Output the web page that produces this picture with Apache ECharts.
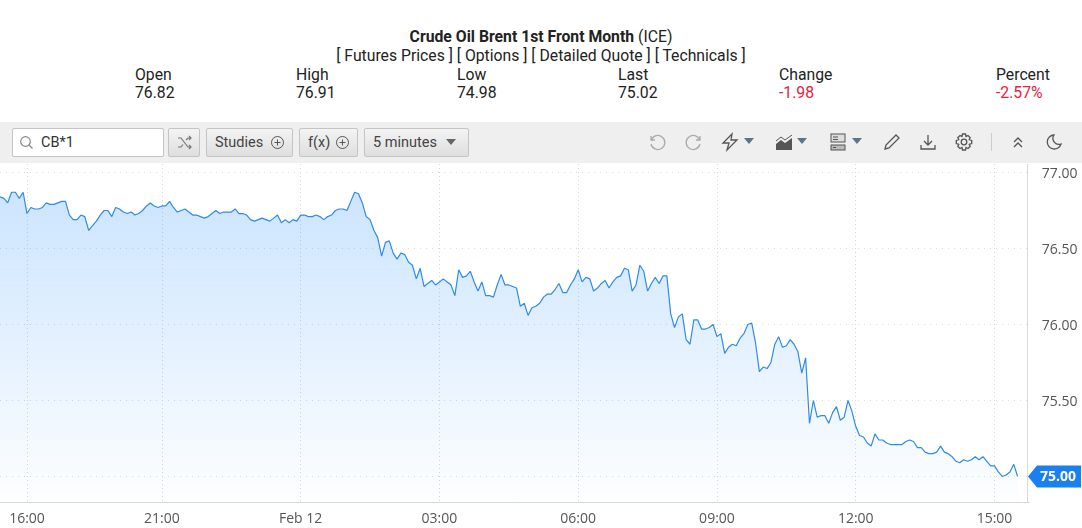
<!DOCTYPE html>
<html>
<head>
<meta charset="utf-8">
<title>Crude Oil Brent 1st Front Month (ICE)</title>
<script src="https://cdn.jsdelivr.net/npm/echarts@6/dist/echarts.min.js"></script>
<style>
    html, body { margin: 0; padding: 0; background: #fff; }
    body { width: 1082px; height: 528px; position: relative; overflow: hidden; font-family: Roboto, sans-serif; color: #222; font-size: 15.75px; }
    .t { position: absolute; white-space: nowrap; line-height: 18px; }
    .c { left: 0; width: 1082px; text-align: center; }
    .red { color: #e8203a; }
    #bar { position: absolute; left: 0; top: 122px; width: 1082px; height: 41px; background: #efefef; }
    .box { position: absolute; top: 6px; height: 29px; line-height: 27px; box-sizing: border-box; border: 1px solid #c4c4c4; border-radius: 2px; background: linear-gradient(#f4f4f4, #dedede); color: #444; font-size: 14.5px; white-space: nowrap; }
    #search { left: 12px; width: 152px; background: #fff; padding-left: 28px; color: #333; }
    .box svg, .ico { position: absolute; }
    .ico { top: 10px; }
    #sep { position: absolute; left: 991px; top: 11px; width: 1px; height: 18px; background: #ccc; }
    #main { position: absolute; left: 0; top: 164px; width: 1082px; height: 364px; }
</style>
</head>
<body>
<div class="t c" style="top:28px"><b>Crude Oil Brent 1st Front Month</b> (ICE)</div>
<div class="t c" style="top:47px">[ Futures Prices ] [ Options ] [ Detailed Quote ] [ Technicals ]</div>
<div class="t" style="left:135px;top:66px">Open</div><div class="t" style="left:135px;top:84px">76.82</div>
<div class="t" style="left:296px;top:66px">High</div><div class="t" style="left:296px;top:84px">76.91</div>
<div class="t" style="left:457px;top:66px">Low</div><div class="t" style="left:457px;top:84px">74.98</div>
<div class="t" style="left:618px;top:66px">Last</div><div class="t" style="left:618px;top:84px">75.02</div>
<div class="t" style="left:779px;top:66px">Change</div><div class="t red" style="left:779px;top:84px">-1.98</div>
<div class="t" style="left:996px;top:66px">Percent</div><div class="t red" style="left:996px;top:84px">-2.57%</div>

<div id="bar">
    <div class="box" id="search">CB*1
        <svg style="left:6px;top:6px" width="15" height="15" viewBox="0 0 15 15" fill="none" stroke="#888" stroke-width="1.2"><circle cx="6.5" cy="6.5" r="4.8"/><path d="M10 10l3.5 3.5"/></svg>
    </div>
    <div class="box" style="left:168px;width:32px">
        <svg style="left:8px;top:6px" width="15" height="15" viewBox="0 0 15 15" fill="none" stroke="#777" stroke-width="1.2"><path d="M1 3h3l7 9h3M1 12h3l2-2.5M9 5l2-2h3M12 1l2 2-2 2M12 10l2 2-2 2"/></svg>
    </div>
    <div class="box" style="left:206px;width:87px;padding-left:8px">Studies
        <svg style="left:63px;top:6px" width="15" height="15" viewBox="0 0 15 15" fill="none" stroke="#555"><circle cx="7.5" cy="7.5" r="6"/><path d="M7.5 4.5v6M4.5 7.5h6"/></svg>
    </div>
    <div class="box" style="left:299px;width:59px;padding-left:8px">f(x)
        <svg style="left:35px;top:6px" width="15" height="15" viewBox="0 0 15 15" fill="none" stroke="#555"><circle cx="7.5" cy="7.5" r="6"/><path d="M7.5 4.5v6M4.5 7.5h6"/></svg>
    </div>
    <div class="box" style="left:364px;width:105px;padding-left:8px">5 minutes
        <svg style="left:80px;top:10px" width="12" height="7" viewBox="0 0 12 7" fill="#666"><path d="M1 0h10L6 6z"/></svg>
    </div>

    <svg class="ico" style="left:647px" width="20" height="20" viewBox="0 0 20 20" fill="none" stroke="#aaa" stroke-width="1.3"><path d="M4 4v4h4M4.3 8a7 7 0 1 1-.3 4"/></svg>
    <svg class="ico" style="left:684px" width="20" height="20" viewBox="0 0 20 20" fill="none" stroke="#aaa" stroke-width="1.3"><path d="M16 4v4h-4M15.7 8a7 7 0 1 0 .3 4"/></svg>
    <svg class="ico" style="left:720px" width="20" height="20" viewBox="0 0 20 20" fill="none" stroke="#555" stroke-width="1.3"><path d="M12 2L3 11h6l-2 7 10-10h-6z"/></svg>
    <svg class="ico" style="left:743px;top:16px" width="12" height="7" viewBox="0 0 12 7" fill="#5a7488"><path d="M1 0h10L6 6z"/></svg>
    <svg class="ico" style="left:774px" width="20" height="20" viewBox="0 0 20 20" fill="#555"><path d="M2 18v-6l5-4 4 3 7-5v12z"/><path d="M2 9l5-4 4 3 7-5" fill="none" stroke="#555"/></svg>
    <svg class="ico" style="left:796px;top:16px" width="12" height="7" viewBox="0 0 12 7" fill="#5a7488"><path d="M1 0h10L6 6z"/></svg>
    <svg class="ico" style="left:829px" width="18" height="20" viewBox="0 0 18 20" fill="none" stroke="#555"><rect x="2" y="2" width="14" height="8" fill="#ddd"/><rect x="2" y="13" width="14" height="5" fill="#bbb"/><path d="M4 5h5M4 7.5h5M4 15.5h3"/></svg>
    <svg class="ico" style="left:851px;top:16px" width="12" height="7" viewBox="0 0 12 7" fill="#5a7488"><path d="M1 0h10L6 6z"/></svg>
    <svg class="ico" style="left:882px" width="20" height="20" viewBox="0 0 20 20" fill="none" stroke="#555" stroke-width="1.3"><path d="M3 17l1-4L14 3l3 3L7 16z"/></svg>
    <svg class="ico" style="left:918px" width="20" height="20" viewBox="0 0 20 20" fill="none" stroke="#555" stroke-width="1.3"><path d="M10 3v10M6 9l4 4 4-4M3 13v4h14v-4"/></svg>
    <svg class="ico" style="left:954px" width="20" height="20" viewBox="0 0 20 20" fill="none" stroke="#555" stroke-width="1.3"><circle cx="10" cy="10" r="2.8"/><path d="M8.5 2h3l.5 2.5 2-1 2.2 2.2-1 2 2.500 .8v3l-2.500 .8 1 2-2.200 2.200-2-1-.5 2.500h-3l-.5-2.500-2 1-2.200-2.200 1-2-2.500-.8v-3l2.500-.8-1-2 2.200-2.200 2 1z"/></svg>
    <div id="sep"></div>
    <svg class="ico" style="left:1008px" width="20" height="20" viewBox="0 0 20 20" fill="none" stroke="#555" stroke-width="1.3"><path d="M6 10l4-4 4 4M6 15l4-4 4 4"/></svg>
    <svg class="ico" style="left:1044px" width="20" height="20" viewBox="0 0 20 20" fill="none" stroke="#555" stroke-width="1.3"><path d="M10 3a7 7 0 1 0 7 9 6 6 0 0 1-7-9z"/></svg>
</div>

<div id="main"></div>

<script>
// 5 minute closes
const closes = [
    76.84, 76.83, 76.80, 76.87, 76.87, 76.83, 76.87, 76.73, 76.77, 76.76, 76.76, 76.77, 76.80, 76.79, 76.79, 76.80,
    76.81, 76.81, 76.72, 76.69, 76.69, 76.72, 76.71, 76.62, 76.65, 76.68, 76.72, 76.75, 76.75, 76.71, 76.77, 76.76,
    76.74, 76.73, 76.74, 76.72, 76.73, 76.75, 76.78, 76.80, 76.78, 76.77, 76.78, 76.78, 76.81, 76.77, 76.74, 76.75,
    76.76, 76.74, 76.72, 76.72, 76.71, 76.70, 76.71, 76.73, 76.75, 76.73, 76.74, 76.74, 76.74, 76.76, 76.73, 76.73,
    76.72, 76.69, 76.68, 76.69, 76.70, 76.69, 76.68, 76.70, 76.72, 76.67, 76.69, 76.67, 76.69, 76.68, 76.72, 76.72,
    76.71, 76.71, 76.72, 76.71, 76.69, 76.71, 76.72, 76.75, 76.76, 76.76, 76.75, 76.81, 76.87, 76.86, 76.80, 76.71,
    76.69, 76.62, 76.57, 76.45, 76.54, 76.55, 76.47, 76.43, 76.47, 76.46, 76.41, 76.39, 76.30, 76.37, 76.25, 76.27,
    76.29, 76.26, 76.28, 76.30, 76.28, 76.26, 76.19, 76.36, 76.31, 76.32, 76.35, 76.28, 76.22, 76.28, 76.19, 76.19,
    76.18, 76.26, 76.33, 76.26, 76.26, 76.25, 76.24, 76.12, 76.14, 76.06, 76.11, 76.12, 76.14, 76.18, 76.20, 76.20,
    76.23, 76.27, 76.21, 76.21, 76.26, 76.30, 76.36, 76.28, 76.31, 76.30, 76.22, 76.24, 76.27, 76.29, 76.24, 76.28,
    76.31, 76.32, 76.37, 76.36, 76.22, 76.26, 76.39, 76.35, 76.22, 76.27, 76.31, 76.27, 76.32, 76.32, 76.07, 75.98,
    76.05, 76.07, 75.90, 75.87, 76.03, 76.03, 75.97, 75.97, 75.98, 76.00, 75.92, 75.94, 75.81, 75.85, 75.87, 75.86,
    75.91, 75.94, 76.00, 76.01, 75.88, 75.69, 75.72, 75.71, 75.75, 75.87, 75.92, 75.85, 75.86, 75.90, 75.87, 75.82,
    75.68, 75.78, 75.35, 75.50, 75.39, 75.40, 75.40, 75.35, 75.42, 75.46, 75.37, 75.39, 75.50, 75.43, 75.33, 75.27,
    75.26, 75.22, 75.20, 75.28, 75.24, 75.24, 75.22, 75.21, 75.21, 75.21, 75.21, 75.23, 75.24, 75.23, 75.19, 75.19,
    75.16, 75.15, 75.15, 75.16, 75.20, 75.16, 75.15, 75.13, 75.10, 75.09, 75.11, 75.10, 75.11, 75.13, 75.11, 75.13,
    75.10, 75.07, 75.07, 75.03, 75.00, 75.01, 75.03, 75.08, 75.00
]

const tickLabels = ['16:00', '21:00', 'Feb 12', '03:00', '06:00', '09:00', '12:00', '15:00']
const priceTicks = [75, 75.5, 76, 76.5, 77]

// trading sessions in minutes from midnight Feb 11, the market is shut 18:00 - 20:00
const sessions = [[925, 1075], [1205, 2385]]

const categories = []
sessions.forEach(([from, to]) => {
    for (let m = from; m <= to; m += 5) {
        const hh = String(Math.floor(m / 60) % 24).padStart(2, '0')
        const mm = String(m % 60).padStart(2, '0')
        categories.push(m === 1440 ? 'Feb 12' : hh + ':' + mm)
    }
})

const showTick = (index, value) => tickLabels.includes(value)
const axisColor = '#d9d9d9'

const chart = echarts.init(document.getElementById('main'), null, { renderer: 'canvas' })

chart.setOption({
    animation: false,
    grid: { left: -1.7, top: 0, width: 1030.9, height: 338, containLabel: false },
    xAxis: {
        type: 'category',
        boundaryGap: false,
        data: categories,
        axisLine: { lineStyle: { color: axisColor, width: 1 } },
        axisTick: { show: false },
        axisLabel: {
            interval: showTick,
            hideOverlap: false,
            margin: 10,
            color: '#555',
            fontSize: 14,
            fontFamily: 'Open Sans'
        },
        splitLine: {
            show: true,
            interval: showTick,
            lineStyle: { color: '#d6d6d6', type: [1, 3] }
        }
    },
    yAxis: {
        type: 'value',
        position: 'right',
        offset: -1.5,
        min: 74.832,
        max: 77.056,
        axisLine: { show: true, lineStyle: { color: axisColor, width: 1 } },
        axisTick: { show: false, customValues: priceTicks },
        axisLabel: {
            customValues: priceTicks,
            formatter: v => '{p|' + v.toFixed(2) + '}',
            margin: 14,
            rich: {
                p: { padding: [4, 0, 0, 0], color: '#555', fontSize: 14, fontFamily: 'Open Sans' }
            }
        },
        splitLine: {
            show: true,
            lineStyle: { color: '#dcdcdc', type: [1, 5] }
        }
    },
    series: [{
        type: 'line',
        data: closes,
        showSymbol: false,
        silent: true,
        lineStyle: { color: '#2c8bec', width: 1.2 },
        areaStyle: {
            origin: 'start',
            color: new echarts.graphic.LinearGradient(0, 0, 0, 1, [
                { offset: 0, color: 'rgba(33,140,250,0.33)' },
                { offset: 1, color: 'rgba(33,140,250,0.01)' }
            ])
        }
    }]
})

// last price tag on the price axis
const lastPrice = closes[closes.length - 1]
const tagY = chart.convertToPixel({ yAxisIndex: 0 }, lastPrice)
chart.setOption({
    graphic: [{
        type: 'polygon',
        z: 100,
        shape: { points: [[1028, tagY], [1037, tagY - 11], [1081, tagY - 11], [1081, tagY + 11], [1037, tagY + 11]] },
        style: { fill: '#1a7ff0' }
    }, {
        type: 'text',
        z: 101,
        x: 1058,
        y: tagY + 1,
        style: {
            text: lastPrice.toFixed(2),
            fill: '#fff',
            font: 'bold 14px "Open Sans"',
            align: 'center',
            verticalAlign: 'middle'
        }
    }]
})
</script>
</body>
</html>
